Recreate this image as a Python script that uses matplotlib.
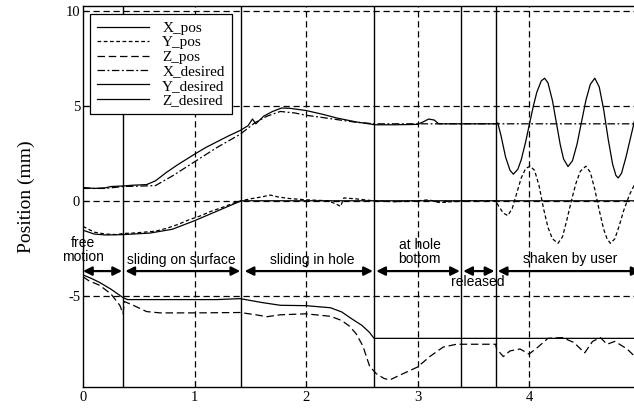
import matplotlib
matplotlib.use("Agg")
import matplotlib.pyplot as plt

plt.rcParams["axes.unicode_minus"] = False

# ---------------- data ----------------
x_pos_t = [0.0, 0.1, 0.2, 0.25, 0.36, 0.45, 0.57, 0.65, 0.75, 0.85, 1.0, 1.1, 1.2, 1.3, 1.41,
           1.48, 1.52, 1.55, 1.62, 1.7, 1.78, 1.85, 2.0, 2.15, 2.28, 2.45, 2.62, 2.8, 3.0, 3.05,
           3.1, 3.15, 3.19, 3.4, 3.70, 3.72, 3.75, 3.79, 3.83, 3.86, 3.90, 3.93, 3.97, 4.00,
           4.04, 4.07, 4.11, 4.14, 4.17, 4.21, 4.24, 4.28, 4.31, 4.35, 4.39, 4.43, 4.47, 4.51,
           4.55, 4.59, 4.63, 4.67, 4.71, 4.75, 4.78, 4.80, 4.83, 4.87, 4.91, 4.95]
x_pos_v = [0.7, 0.65, 0.68, 0.75, 0.78, 0.82, 0.85, 1.05, 1.5, 1.9, 2.45, 2.8, 3.1, 3.4, 3.7,
           3.95, 4.3, 4.05, 4.45, 4.7, 4.88, 4.87, 4.75, 4.55, 4.35, 4.15, 4.0, 4.0, 4.02, 4.15,
           4.3, 4.25, 4.05, 4.05, 4.05, 4.1, 3.4, 2.3, 1.6, 1.4, 1.66, 2.15, 3.1, 3.93,
           5.01, 5.71, 6.31, 6.45, 6.21, 5.28, 4.29, 2.96, 2.2, 1.8, 2.11, 2.96, 4.12, 5.28,
           6.13, 6.45, 5.99, 4.79, 3.25, 1.92, 1.33, 1.2, 1.45, 2.3, 3.3, 4.3]

y_pos_t = [0.0, 0.05, 0.1, 0.2, 0.3, 0.36, 0.45, 0.55, 0.65, 0.75, 0.85, 0.95, 1.05, 1.15,
           1.25, 1.35, 1.42, 1.5, 1.6, 1.68, 1.75, 1.85, 2.0, 2.2, 2.28, 2.31, 2.34, 2.45, 2.6,
           2.8, 3.0, 3.1, 3.2, 3.3, 3.5, 3.70, 3.73, 3.77, 3.81, 3.85, 3.89, 3.93, 3.97, 4.01,
           4.05, 4.09, 4.13, 4.17, 4.21, 4.26, 4.30, 4.34, 4.38, 4.42, 4.46, 4.51, 4.55, 4.59,
           4.63, 4.67, 4.70, 4.73, 4.77, 4.81, 4.85, 4.90, 4.95]
y_pos_v = [-1.35, -1.5, -1.65, -1.75, -1.78, -1.72, -1.7, -1.65, -1.6, -1.45, -1.25, -1.0,
           -0.8, -0.55, -0.35, -0.12, 0.0, 0.1, 0.2, 0.3, 0.2, 0.12, 0.05, 0.0, -0.2, -0.3,
           0.15, 0.1, 0.0, -0.05, 0.0, 0.05, -0.1, -0.05, 0.0, 0.0, -0.3, -0.65, -0.78, -0.4,
           0.4, 1.2, 1.7, 1.82, 1.6, 0.8, -0.4, -1.4, -2.0, -2.24, -1.9, -1.0, 0.0, 0.9, 1.55,
           1.82, 1.5, 0.6, -0.5, -1.5, -2.0, -2.24, -2.0, -1.3, -0.5, 0.3, 0.9]

z_pos_t = [0.0, 0.05, 0.15, 0.25, 0.33, 0.36, 0.37, 0.45, 0.57, 0.69, 1.0, 1.41, 1.55, 1.65,
           1.77, 2.0, 2.22, 2.32, 2.39, 2.45, 2.51, 2.57, 2.63, 2.7, 2.75, 2.87, 3.0, 3.11,
           3.23, 3.35, 3.70, 3.71, 3.77, 3.83, 3.92, 4.0, 4.08, 4.17, 4.3, 4.4, 4.5, 4.57, 4.64,
           4.7, 4.77, 4.88, 4.95]
z_pos_v = [-4.0, -4.2, -4.45, -4.9, -5.5, -5.95, -5.3, -5.5, -5.83, -5.9, -5.9, -5.88, -6.0,
           -6.1, -6.0, -5.95, -6.08, -6.3, -6.6, -7.0, -7.64, -8.7, -9.1, -9.35, -9.43, -9.1,
           -8.75, -8.2, -7.7, -7.55, -7.55, -7.8, -8.2, -7.9, -7.8, -8.07, -7.7, -7.24, -7.2,
           -7.45, -8.0, -7.4, -7.2, -7.55, -7.4, -7.8, -8.2]

x_des_t = [0.0, 0.2, 0.36, 0.55, 0.65, 0.8, 1.0, 1.2, 1.41, 1.54, 1.65, 1.77, 1.9, 2.0, 2.15,
           2.28, 2.45, 2.62, 4.95]
x_des_v = [0.65, 0.65, 0.75, 0.78, 0.8, 1.3, 2.05, 2.8, 3.5, 4.1, 4.45, 4.7, 4.62, 4.5, 4.38,
           4.27, 4.13, 4.05, 4.05]

y_des_t = [0.0, 0.1, 0.2, 0.36, 0.6, 0.8, 1.0, 1.2, 1.42, 4.95]
y_des_v = [-1.55, -1.75, -1.8, -1.78, -1.7, -1.5, -1.05, -0.55, 0.0, 0.0]

z_des_t = [0.0, 0.08, 0.15, 0.25, 0.36, 0.4, 0.8, 1.2, 1.41, 1.6, 1.77, 2.0, 2.22, 2.32, 2.42,
           2.5, 2.57, 2.61, 4.95]
z_des_v = [-3.9, -4.1, -4.3, -4.65, -5.1, -5.2, -5.2, -5.2, -5.15, -5.35, -5.5, -5.52, -5.63,
           -5.85, -6.25, -6.55, -6.93, -7.24, -7.24]

phase_bounds = [0.36, 1.42, 2.61, 3.39, 3.70]
phase_arrows = [(0.0, 0.35), (0.38, 1.41), (1.45, 2.60), (2.63, 3.38), (3.41, 3.69), (3.72, 5.0)]
phase_labels = ["free\nmotion", "sliding on surface", "sliding in hole", "at hole\nbottom",
                "released", "shaken by user"]
label_pos = [(0.0, -2.6), (0.88, -3.12), (2.06, -3.12), (3.02, -2.7), (3.54, -4.3), (4.37, -3.08)]
arrow_y = -3.7

xticks = [0, 1, 2, 3, 4]
yticks = [-5, 0, 5, 10]

# ---------------- figure ----------------
serif = "Liberation Serif"
sans = "Liberation Sans"

fig = plt.figure(figsize=(6.34, 4.08), dpi=100)
ax = fig.add_axes([83 / 634, 21 / 408, 557.5 / 634, 381 / 408])
ax.set_xlim(0, 5)
ax.set_ylim(-9.8, 10.25)

# grid
for g in xticks[1:]:
    ax.axvline(g, color="black", lw=0.9, ls=(0, (5, 3)), zorder=1)
for g in yticks:
    ax.axhline(g, color="black", lw=0.9, ls=(0, (5, 3)), zorder=1)
for b in phase_bounds:
    ax.axvline(b, color="black", lw=1.0, zorder=1)

lw = 0.9
ax.plot(x_pos_t, x_pos_v, color="black", lw=lw, ls="-", label="X_pos")
ax.plot(y_pos_t, y_pos_v, color="black", lw=lw, ls=(0, (3, 2)), label="Y_pos")
ax.plot(z_pos_t, z_pos_v, color="black", lw=lw, ls=(0, (6, 3)), label="Z_pos")
ax.plot(x_des_t, x_des_v, color="black", lw=lw, ls=(0, (6, 2, 1.5, 2)), label="X_desired")
ax.plot(y_des_t, y_des_v, color="black", lw=lw, ls="-", label="Y_desired")
ax.plot(z_des_t, z_des_v, color="black", lw=lw, ls="-", label="Z_desired")

for (a, b) in phase_arrows:
    ax.annotate("", xy=(b, arrow_y), xytext=(a, arrow_y),
                arrowprops=dict(arrowstyle="<|-|>", color="black", lw=1.6,
                                mutation_scale=13, shrinkA=0, shrinkB=0),
                annotation_clip=False)
for txt, (px, py) in zip(phase_labels, label_pos):
    ax.text(px, py, txt, ha="center", va="center", fontsize=10, family=sans,
            linespacing=1.0, clip_on=False)

ax.set_xticks(xticks)
ax.set_yticks(yticks)
ax.tick_params(direction="in", length=4, width=0.8, labelsize=10.5, pad=3)
ax.tick_params(axis="y", pad=2)
for lab in ax.get_xticklabels() + ax.get_yticklabels():
    lab.set_family(serif)
for s in ax.spines.values():
    s.set_linewidth(1.0)

ax.set_ylabel("Position (mm)", family=serif, fontsize=14, labelpad=22)

leg = ax.legend(loc="upper left", bbox_to_anchor=(0.012, 0.978), prop=dict(family=serif, size=11),
                frameon=True, fancybox=False, edgecolor="black", framealpha=1,
                handlelength=3.4, handletextpad=0.9, labelspacing=0.05, borderpad=0.45,
                borderaxespad=0)
leg.get_frame().set_linewidth(0.9)

fig.savefig("out.png", dpi=100, facecolor="white")
